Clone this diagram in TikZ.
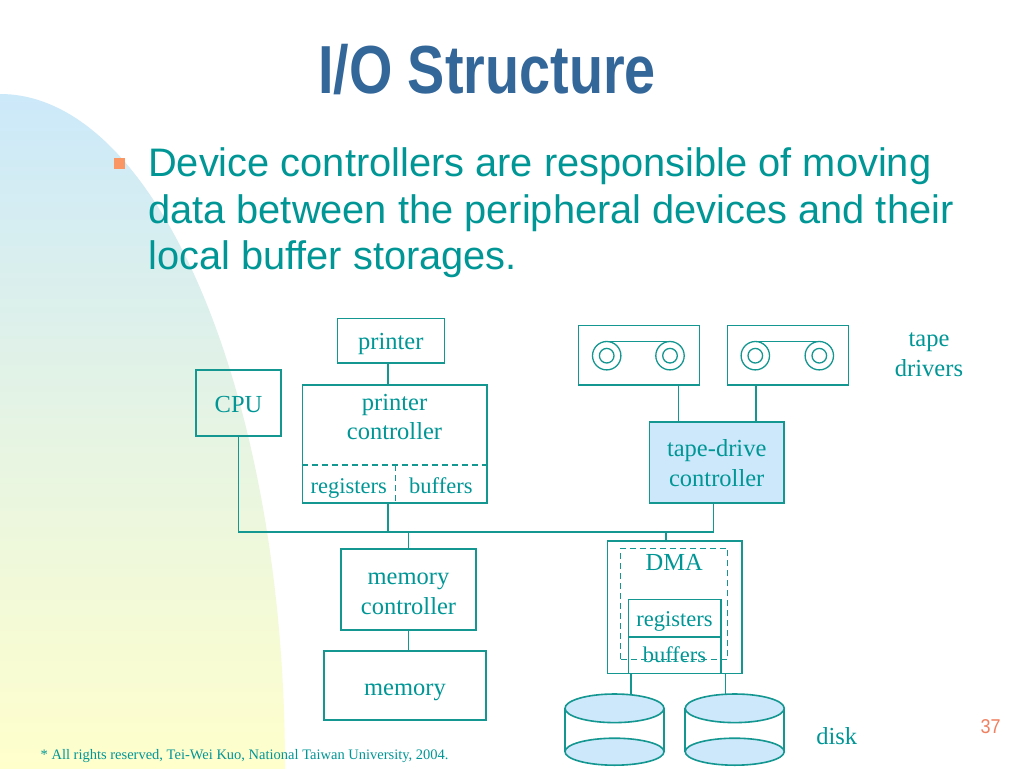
\documentclass[tikz,border=0pt]{standalone}
\usepackage{fontspec}
\setmainfont{Liberation Serif}
\newfontfamily\sansfnt{Liberation Sans}
\usepackage{graphicx}
\definecolor{tc}{RGB}{0,150,150}
\definecolor{lc}{RGB}{20,150,145}
\definecolor{titlec}{RGB}{51,102,153}
\definecolor{bulc}{RGB}{250,150,100}
\definecolor{pgc}{RGB}{240,128,96}
\definecolor{fillb}{RGB}{204,232,250}
\definecolor{bgb}{RGB}{204,233,250}
\definecolor{bgy}{RGB}{255,255,204}
\begin{document}
\begin{tikzpicture}[x=1pt,y=-1pt,
  box/.style={draw=lc, line width=1.6pt, rectangle, inner sep=0pt},
  dbox/.style={draw=lc, line width=1.3pt, dash pattern=on 6pt off 4pt, rectangle, inner sep=0pt},
  dline/.style={draw=lc, line width=1.3pt, dash pattern=on 6pt off 4pt},
  cell/.style={rectangle, inner sep=0pt},
  conn/.style={draw=lc, line width=1.6pt},
  reel/.style={draw=lc, line width=1.3pt},
  lbl/.style={text=tc, font=\fontsize{24.5}{30}\selectfont, anchor=base, inner sep=0pt},
  slbl/.style={text=tc, font=\fontsize{22.5}{27}\selectfont, anchor=base, inner sep=0pt},
]
\fill[white] (0,0) rectangle (1024,768);
\useasboundingbox (0,0) rectangle (1024,768);
% background quarter ellipse
\begin{scope}
  \clip (0,768) ellipse [x radius=285, y radius=674];
  \shade[top color=bgb, bottom color=bgy] (0,94) rectangle (285,768);
\end{scope}
% title and bullet text
\node[anchor=base, inner sep=0pt, text=titlec, font=\fontsize{68}{80}\selectfont\sansfnt\bfseries] (title) at (487,93.3) {\scalebox{0.82}[1]{I/O Structure}};
\node[fill=bulc, inner sep=0pt, minimum size=11pt] (bullet) at (119.5,163) {};
\node[anchor=base west, inner sep=0pt, text=tc, font=\fontsize{39.8}{46}\selectfont\sansfnt] (b1) at (148,176.7) {Device controllers are responsible of moving};
\node[anchor=base west, inner sep=0pt, text=tc, font=\fontsize{39.8}{46}\selectfont\sansfnt] (b2) at (148,223.3) {data between the peripheral devices and their};
\node[anchor=base west, inner sep=0pt, text=tc, font=\fontsize{39.8}{46}\selectfont\sansfnt] (b3) at (148,269.8) {local buffer storages.};
% printer side
\node[box, minimum width=107pt, minimum height=44.4pt] (printer) at (390.8,340.5) {};
\node[lbl] (printertxt) at (390.8,349.3) {printer};
\node[box, minimum width=85pt, minimum height=66pt] (cpu) at (238.5,403) {};
\node[lbl] (cputxt) at (238.5,412.5) {CPU};
\node[cell, minimum width=92.7pt, minimum height=37.4pt] (pregs) at (348.7,484) {};
\node[cell, minimum width=91.7pt, minimum height=37.4pt] (pbufs) at (440.9,484) {};
\node[slbl] (pregstxt) at (348.7,493.3) {registers};
\node[slbl] (pbufstxt) at (440.9,493.3) {buffers};
\node[box, minimum width=184.4pt, minimum height=118pt] (pctrl) at (394.5,443.7) {};
\draw[dline] (pctrl.west |- pregs.north) -- (pctrl.east |- pregs.north);
\draw[dline] (pregs.north east) -- (pregs.south east);
\node[lbl] (pctrltxta) at (394.5,410) {printer};
\node[lbl] (pctrltxtb) at (394.5,439.3) {controller};
% tapes
\node[box, minimum width=121pt, minimum height=59.3pt] (tape1) at (638.8,355.3) {};
\node[box, minimum width=121pt, minimum height=59.3pt] (tape2) at (787.8,355.3) {};
\foreach \cx in {606.7,670,755.3,819.3} {
  \draw[reel] (\cx,355.7) circle [radius=14.2];
  \draw[reel] (\cx,355.7) circle [radius=7.3];
}
\draw[reel] (606.7,341.5) -- (670,341.5);
\draw[reel] (755.3,341.5) -- (819.3,341.5);
\node[box, fill=fillb, minimum width=134.7pt, minimum height=81pt] (tctrl) at (716.7,462.2) {};
\node[lbl] (tctrltxta) at (716.7,456.7) {tape-drive};
\node[lbl] (tctrltxtb) at (716.7,486) {controller};
\node[lbl] (tapelbla) at (929,346) {tape};
\node[lbl] (tapelblb) at (929,376) {drivers};
% memory
\node[box, minimum width=135pt, minimum height=81pt] (mctrl) at (408.5,589.5) {};
\node[lbl] (mctrltxta) at (408.5,584.3) {memory};
\node[lbl] (mctrltxtb) at (408.5,614) {controller};
\node[box, minimum width=162pt, minimum height=69pt] (mem) at (405,685.5) {};
\node[lbl] (memtxt) at (405,695.5) {memory};
% DMA
\node[box, minimum width=134.4pt, minimum height=132.6pt] (dma) at (674.5,607) {};
\node[box, minimum width=92.4pt, minimum height=37.4pt] (dregs) at (674.5,618) {};
\node[box, minimum width=92.4pt, minimum height=36.6pt] (dbufs) at (674.5,655) {};
\node[slbl] (dregstxt) at (674.5,626.7) {registers};
\node[slbl] (dbufstxt) at (674.5,662.7) {buffers};
\node[dbox, minimum width=107pt, minimum height=111pt] (dmadash) at (674.2,603.8) {};
\node[lbl] (dmatxt) at (674.3,570.7) {DMA};
% bus and connectors
\coordinate (busL) at (239.3,531.7);
\coordinate (busR) at (713.3,531.7);
\coordinate (px) at (387.7,0);
\coordinate (t1x) at (678.3,0);
\coordinate (t2x) at (755.7,0);
\coordinate (dx) at (665.7,0);
\draw[conn] (cpu.south) -- (cpu.south |- busL) -- (busR) -- (tctrl.south -| busR);
\draw[conn] (printer.south -| px) -- (pctrl.north -| px);
\draw[conn] (pctrl.south -| px) -- (busL -| px);
\draw[conn] (tape1.south -| t1x) -- (tctrl.north -| t1x);
\draw[conn] (tape2.south -| t2x) -- (tctrl.north -| t2x);
\draw[conn] (busL -| mctrl.north) -- (mctrl.north);
\draw[conn] (mctrl.south) -- (mctrl.south |- mem.north);
\draw[conn] (busL -| dx) -- (dma.north -| dx);
% disks
\foreach \cx in {614.5,734.7} {
  \draw[conn] (\cx-49.5,708.3) -- (\cx-49.5,751.7);
  \draw[conn] (\cx+49.5,708.3) -- (\cx+49.5,751.7);
  \draw[conn, fill=fillb] (\cx,751.7) ellipse [x radius=49.5, y radius=13.5];
  \draw[conn, fill=fillb] (\cx,708.3) ellipse [x radius=49.5, y radius=14.3];
}
\coordinate (d1) at (631,694);
\coordinate (d2) at (725.3,694);
\draw[conn] (dma.south -| d1) -- (d1);
\draw[conn] (dma.south -| d2) -- (d2);
\node[lbl] (disklbl) at (836.7,744) {disk};
% footer
\node[anchor=base west, inner sep=0pt, text=tc, font=\fontsize{14.5}{17}\selectfont] (foot) at (40.5,759) {* All rights reserved, Tei-Wei Kuo, National Taiwan University, 2004.};
\node[anchor=base, inner sep=0pt, text=pgc, font=\fontsize{20}{24}\selectfont\sansfnt] (pagenum) at (990.5,733) {\scalebox{0.9}[1]{37}};
\end{tikzpicture}
\end{document}
